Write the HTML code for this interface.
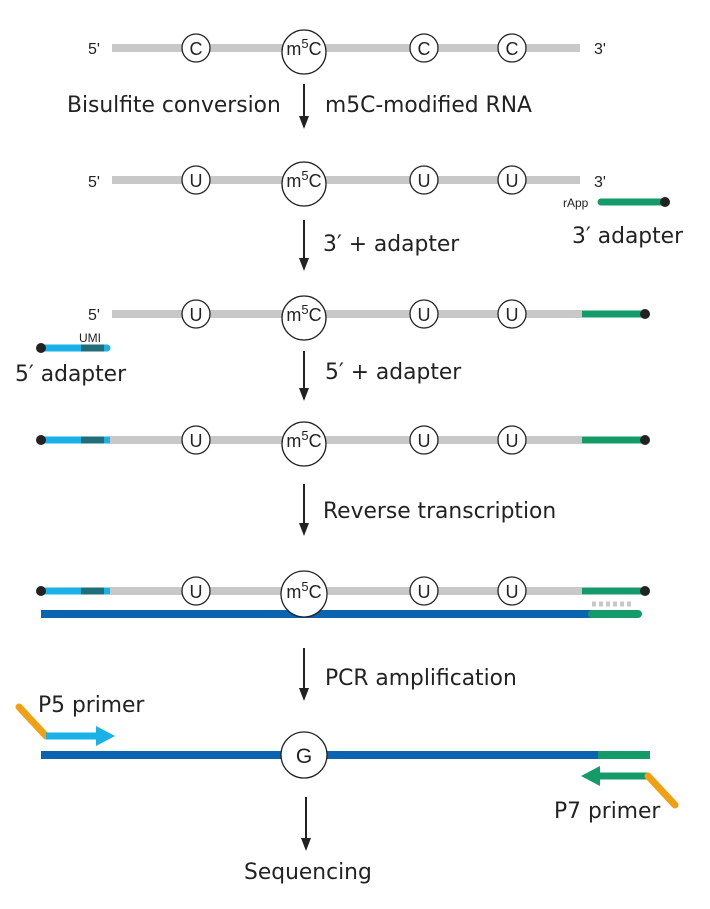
<!DOCTYPE html>
<html><head><meta charset="utf-8"><style>
html,body{margin:0;padding:0;background:#fff;}
svg text{font-family:"Liberation Sans",sans-serif;}
.t{font-family:"DejaVu Sans","Liberation Sans",sans-serif;font-size:21.8px;fill:#222;}
</style></head><body>
<svg width="710" height="904" viewBox="0 0 710 904" xmlns="http://www.w3.org/2000/svg">
<g font-size="16" fill="#222">
<!-- Row 1 -->
<text x="88" y="54">5'</text>
<line x1="112" y1="48" x2="580" y2="48" stroke="#c8c8c8" stroke-width="8"/>
<text x="594" y="54">3'</text>
<circle cx="196" cy="48" r="14" fill="#fff" stroke="#222" stroke-width="1.3"/><text x="196" y="55" text-anchor="middle" font-size="18">C</text>
<circle cx="424" cy="48" r="14" fill="#fff" stroke="#222" stroke-width="1.3"/><text x="424" y="55" text-anchor="middle" font-size="18">C</text>
<circle cx="512" cy="48" r="14" fill="#fff" stroke="#222" stroke-width="1.3"/><text x="512" y="55" text-anchor="middle" font-size="18">C</text>
<circle cx="304" cy="52" r="22" fill="#fff" stroke="#222" stroke-width="1.3"/><text x="304" y="55" text-anchor="middle" font-size="18">m<tspan dy="-7" font-size="13">5</tspan><tspan dy="7">C</tspan></text>

<!-- Row 2 -->
<text x="88" y="187">5'</text>
<line x1="112" y1="180" x2="580" y2="180" stroke="#c8c8c8" stroke-width="8"/>
<text x="594" y="187">3'</text>
<circle cx="196" cy="180" r="14" fill="#fff" stroke="#222" stroke-width="1.3"/><text x="196" y="187" text-anchor="middle" font-size="18">U</text>
<circle cx="424" cy="180" r="14" fill="#fff" stroke="#222" stroke-width="1.3"/><text x="424" y="187" text-anchor="middle" font-size="18">U</text>
<circle cx="512" cy="180" r="14" fill="#fff" stroke="#222" stroke-width="1.3"/><text x="512" y="187" text-anchor="middle" font-size="18">U</text>
<circle cx="304" cy="184" r="22" fill="#fff" stroke="#222" stroke-width="1.3"/><text x="304" y="187" text-anchor="middle" font-size="18">m<tspan dy="-7" font-size="13">5</tspan><tspan dy="7">C</tspan></text>
<text x="563" y="207" font-size="12">rApp</text>
<line x1="601" y1="202" x2="665" y2="202" stroke="#159a6a" stroke-width="7" stroke-linecap="round"/>
<circle cx="665" cy="202" r="5" fill="#222"/>

<!-- Row 3 -->
<text x="88" y="320">5'</text>
<line x1="112" y1="314" x2="582" y2="314" stroke="#c8c8c8" stroke-width="8"/>
<line x1="582" y1="314" x2="645" y2="314" stroke="#159a6a" stroke-width="7"/>
<circle cx="645" cy="314" r="5" fill="#222"/>
<circle cx="196" cy="314" r="14" fill="#fff" stroke="#222" stroke-width="1.3"/><text x="196" y="321" text-anchor="middle" font-size="18">U</text>
<circle cx="424" cy="314" r="14" fill="#fff" stroke="#222" stroke-width="1.3"/><text x="424" y="321" text-anchor="middle" font-size="18">U</text>
<circle cx="512" cy="314" r="14" fill="#fff" stroke="#222" stroke-width="1.3"/><text x="512" y="321" text-anchor="middle" font-size="18">U</text>
<circle cx="304" cy="318" r="22" fill="#fff" stroke="#222" stroke-width="1.3"/><text x="304" y="321" text-anchor="middle" font-size="18">m<tspan dy="-7" font-size="13">5</tspan><tspan dy="7">C</tspan></text>
<text x="79" y="342" font-size="12">UMI</text>
<line x1="41" y1="348" x2="107" y2="348" stroke="#1ab0e8" stroke-width="7" stroke-linecap="round"/>
<line x1="81" y1="348" x2="104" y2="348" stroke="#226e78" stroke-width="7"/>
<circle cx="41" cy="348" r="5" fill="#222"/>

<!-- Row 4 -->
<line x1="41" y1="440" x2="110" y2="440" stroke="#1ab0e8" stroke-width="7"/>
<line x1="81" y1="440" x2="104" y2="440" stroke="#226e78" stroke-width="7"/>
<line x1="110" y1="440" x2="582" y2="440" stroke="#c8c8c8" stroke-width="8"/>
<line x1="582" y1="440" x2="645" y2="440" stroke="#159a6a" stroke-width="7"/>
<circle cx="41" cy="440" r="5" fill="#222"/><circle cx="645" cy="440" r="5" fill="#222"/>
<circle cx="196" cy="440" r="14" fill="#fff" stroke="#222" stroke-width="1.3"/><text x="196" y="447" text-anchor="middle" font-size="18">U</text>
<circle cx="424" cy="440" r="14" fill="#fff" stroke="#222" stroke-width="1.3"/><text x="424" y="447" text-anchor="middle" font-size="18">U</text>
<circle cx="512" cy="440" r="14" fill="#fff" stroke="#222" stroke-width="1.3"/><text x="512" y="447" text-anchor="middle" font-size="18">U</text>
<circle cx="304" cy="444" r="22" fill="#fff" stroke="#222" stroke-width="1.3"/><text x="304" y="447" text-anchor="middle" font-size="18">m<tspan dy="-7" font-size="13">5</tspan><tspan dy="7">C</tspan></text>

<!-- Row 5 -->
<line x1="41" y1="591" x2="110" y2="591" stroke="#1ab0e8" stroke-width="7"/>
<line x1="81" y1="591" x2="104" y2="591" stroke="#226e78" stroke-width="7"/>
<line x1="110" y1="591" x2="582" y2="591" stroke="#c8c8c8" stroke-width="8"/>
<line x1="582" y1="591" x2="645" y2="591" stroke="#159a6a" stroke-width="7"/>
<circle cx="41" cy="591" r="5" fill="#222"/><circle cx="645" cy="591" r="5" fill="#222"/>
<line x1="592" y1="604" x2="632" y2="604" stroke="#c8c8c8" stroke-width="5" stroke-dasharray="4,3"/>
<line x1="41" y1="614" x2="592" y2="614" stroke="#0a64b0" stroke-width="8"/>
<line x1="592" y1="614" x2="638" y2="614" stroke="#159a6a" stroke-width="8" stroke-linecap="round"/>
<circle cx="196" cy="591" r="14" fill="#fff" stroke="#222" stroke-width="1.3"/><text x="196" y="598" text-anchor="middle" font-size="18">U</text>
<circle cx="424" cy="591" r="14" fill="#fff" stroke="#222" stroke-width="1.3"/><text x="424" y="598" text-anchor="middle" font-size="18">U</text>
<circle cx="512" cy="591" r="14" fill="#fff" stroke="#222" stroke-width="1.3"/><text x="512" y="598" text-anchor="middle" font-size="18">U</text>
<circle cx="304" cy="594" r="23" fill="#fff" stroke="#222" stroke-width="1.3"/><text x="304" y="598" text-anchor="middle" font-size="18">m<tspan dy="-7" font-size="13">5</tspan><tspan dy="7">C</tspan></text>

<!-- Row 6 -->
<line x1="41" y1="755" x2="598" y2="755" stroke="#0a64b0" stroke-width="8"/>
<line x1="598" y1="755" x2="650" y2="755" stroke="#159a6a" stroke-width="8"/>
<circle cx="304" cy="755" r="23" fill="#fff" stroke="#222" stroke-width="1.3"/><text x="304" y="763" text-anchor="middle" font-size="21">G</text>
<line x1="19" y1="707" x2="46" y2="736" stroke="#f0a010" stroke-width="7" stroke-linecap="round"/>
<line x1="46" y1="736" x2="98" y2="736" stroke="#1ab0e8" stroke-width="7"/>
<path d="M96,726 L115,736 L96,746 Z" fill="#1ab0e8"/>
<line x1="648" y1="776" x2="598" y2="776" stroke="#159a6a" stroke-width="7"/>
<path d="M600,766 L581,776 L600,786 Z" fill="#159a6a"/>
<line x1="648" y1="776" x2="675" y2="805" stroke="#f0a010" stroke-width="7" stroke-linecap="round"/>
</g>

<!-- arrows -->
<g stroke="#222" stroke-width="2">
<line x1="304" y1="84" x2="304" y2="118"/>
<line x1="304" y1="220" x2="304" y2="260"/>
<line x1="304" y1="351" x2="304" y2="390"/>
<line x1="304" y1="484" x2="304" y2="525"/>
<line x1="304" y1="648" x2="304" y2="690"/>
<line x1="306" y1="797" x2="306" y2="840"/>
</g>
<g fill="#222">
<path d="M299,116 L309,116 L304,129 Z"/>
<path d="M299,258 L309,258 L304,271 Z"/>
<path d="M299,388 L309,388 L304,401 Z"/>
<path d="M299,523 L309,523 L304,536 Z"/>
<path d="M299,688 L309,688 L304,701 Z"/>
<path d="M301,838 L311,838 L306,851 Z"/>
</g>

<text class="t" x="67" y="112">Bisulfite conversion</text>
<text class="t" x="325" y="112">m5C-modified RNA</text>
<text class="t" x="572" y="243">3′ adapter</text>
<text class="t" x="323" y="251">3′ + adapter</text>
<text class="t" x="15" y="381">5′ adapter</text>
<text class="t" x="325" y="379">5′ + adapter</text>
<text class="t" x="323" y="518">Reverse transcription</text>
<text class="t" x="325" y="685">PCR amplification</text>
<text class="t" x="38" y="712">P5 primer</text>
<text class="t" x="554" y="818">P7 primer</text>
<text class="t" x="244" y="879">Sequencing</text>
</svg>
</body></html>
